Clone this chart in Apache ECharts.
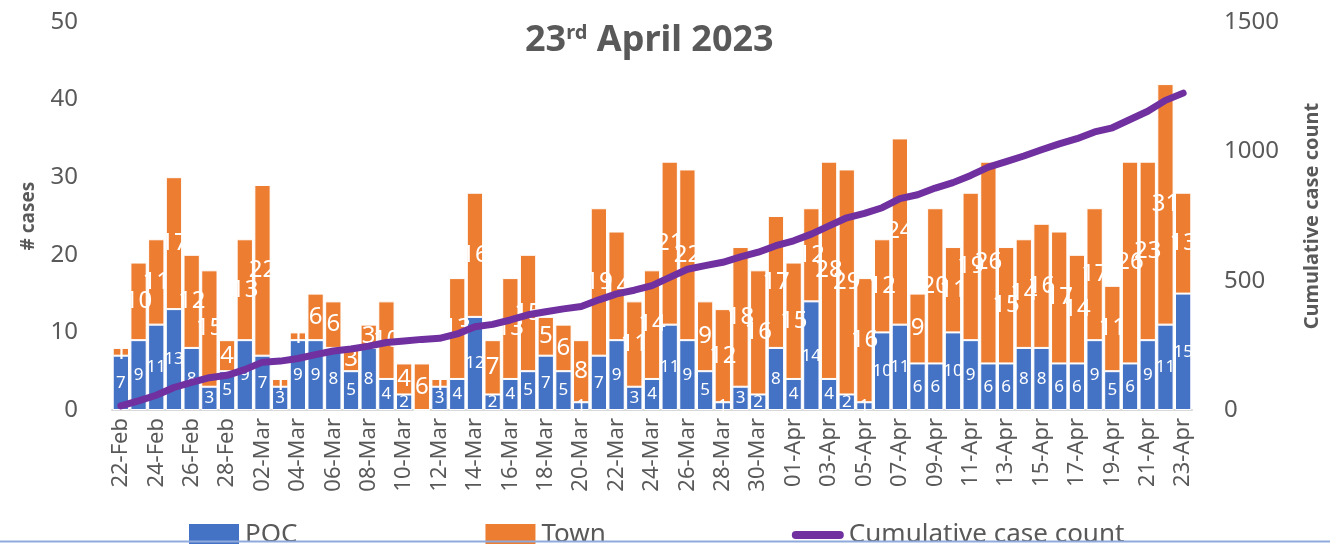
<!DOCTYPE html>
<html>
<head>
<meta charset="utf-8">
<script src="https://cdn.jsdelivr.net/npm/echarts@6/dist/echarts.min.js"></script>
<style>
html,body{margin:0;padding:0;background:#fff;}
#chart{width:1330px;height:544px;}
</style>
</head>
<body>
<div id="chart"></div>
<script>
var dates = [
    '22-Feb','23-Feb','24-Feb','25-Feb','26-Feb','27-Feb','28-Feb',
    '01-Mar','02-Mar','03-Mar','04-Mar','05-Mar','06-Mar','07-Mar','08-Mar','09-Mar','10-Mar',
    '11-Mar','12-Mar','13-Mar','14-Mar','15-Mar','16-Mar','17-Mar','18-Mar','19-Mar','20-Mar',
    '21-Mar','22-Mar','23-Mar','24-Mar','25-Mar','26-Mar','27-Mar','28-Mar','29-Mar','30-Mar','31-Mar',
    '01-Apr','02-Apr','03-Apr','04-Apr','05-Apr','06-Apr','07-Apr','08-Apr','09-Apr','10-Apr',
    '11-Apr','12-Apr','13-Apr','14-Apr','15-Apr','16-Apr','17-Apr','18-Apr','19-Apr','20-Apr',
    '21-Apr','22-Apr','23-Apr'
];
var poc = [7,9,11,13,8,3,5,9,7,3,9,9,8,5,8,4,2,0,3,4,12,2,4,5,7,5,1,7,9,3,4,11,9,5,1,3,2,8,4,14,4,2,1,10,11,6,6,10,9,6,6,8,8,6,6,9,5,6,9,11,15];
var town = [1,10,11,17,12,15,4,13,22,1,1,6,6,3,3,10,4,6,1,13,16,7,13,15,5,6,8,19,14,11,14,21,22,9,12,18,16,17,15,12,28,29,16,12,24,9,20,11,19,26,15,14,16,17,14,17,11,26,23,31,13];
var cumulative = [16,35,57,87,107,125,134,156,185,189,199,214,228,236,247,261,267,273,277,294,322,331,348,368,380,391,400,426,449,463,481,513,544,558,571,592,610,635,654,680,712,743,760,782,817,832,858,879,907,939,960,982,1006,1029,1049,1075,1091,1123,1155,1197,1225];
var leftTicks = [0,10,20,30,40,50];
var rightTicks = [0,500,1000,1500];

var txt = '#595959';
var font = 'Noto Sans';

function hideZero(p){ return p.value > 0 ? p.value : ''; }

var myChart = echarts.init(document.getElementById('chart'));
var option = {
    animation: false,
    textStyle: {fontFamily: font},
    title: {
        text: '{a|23}{s|rd}{a| April 2023}',
        left: 520, top: 18,
        textStyle: {
            rich: {
                a: {fontSize: 36, fontWeight: 'bold', color: txt, fontFamily: font},
                s: {fontSize: 20, fontWeight: 'bold', color: txt, fontFamily: font, verticalAlign: 'top', padding: [0, 0, 16, 0]}
            }
        }
    },
    grid: {left: 112, right: 130, top: 22, bottom: 134},
    legend: {
        left: 182, top: 517,
        itemWidth: 52, itemHeight: 24, itemGap: 186,
        textStyle: {fontSize: 26, color: txt, fontFamily: font},
        data: [
            {name: 'POC', icon: 'rect'},
            {name: 'Town', icon: 'rect'},
            {name: 'Cumulative case count', icon: 'path://M4,0 L48,0 A4,4 0 0 1 48,8 L4,8 A4,4 0 0 1 4,0 Z'}
        ]
    },
    xAxis: {
        type: 'category',
        data: dates,
        axisLine: {lineStyle: {color: '#D9D9D9', width: 2}},
        axisTick: {show: false},
        axisLabel: {interval: 1, rotate: 90, fontSize: 22, color: txt, margin: 8, fontFamily: font}
    },
    yAxis: [
        {
            type: 'value', min: leftTicks[0], max: leftTicks[leftTicks.length - 1], interval: 10,
            name: '# cases', nameLocation: 'middle', nameGap: 74,
            nameTextStyle: {fontSize: 19, fontWeight: 'bold', color: txt, fontFamily: font},
            axisLine: {show: false}, axisTick: {show: false}, splitLine: {show: false},
            axisLabel: {fontSize: 24, color: txt, margin: 34, fontFamily: font}
        },
        {
            type: 'value', min: rightTicks[0], max: rightTicks[rightTicks.length - 1], interval: 500,
            name: 'Cumulative case count', nameLocation: 'middle', nameGap: 110,
            nameTextStyle: {fontSize: 20, fontWeight: 'bold', color: txt, fontFamily: font},
            axisLine: {show: false}, axisTick: {show: false}, splitLine: {show: false},
            axisLabel: {fontSize: 24, color: txt, margin: 32, fontFamily: font, formatter: function (v) { return String(v); }}
        }
    ],
    series: [
        {
            name: 'POC', type: 'bar', stack: 'cases', yAxisIndex: 0,
            barCategoryGap: '8%',
            itemStyle: {color: '#4472C4', borderColor: '#fff', borderWidth: 1},
            label: {show: true, position: 'inside', color: '#fff', fontSize: 17, formatter: hideZero},
            data: poc
        },
        {
            name: 'Town', type: 'bar', stack: 'cases', yAxisIndex: 0,
            barCategoryGap: '8%',
            itemStyle: {color: '#ED7D31', borderColor: '#fff', borderWidth: 1},
            label: {show: true, position: 'inside', color: '#fff', fontSize: 24, formatter: hideZero},
            data: town
        },
        {
            name: 'Cumulative case count', type: 'line', yAxisIndex: 1,
            symbol: 'none',
            lineStyle: {color: '#7030A0', width: 7, cap: 'round', join: 'round'},
            itemStyle: {color: '#7030A0'},
            z: 5,
            data: cumulative
        }
    ],
    graphic: [
        {type: 'line', shape: {x1: 0, y1: 541.5, x2: 1330, y2: 541.5}, style: {stroke: '#8FAADC', lineWidth: 2}, z: 100}
    ]
};
myChart.setOption(option);
window.addEventListener('resize', function () {
    myChart.resize();
});
</script>
</body>
</html>
